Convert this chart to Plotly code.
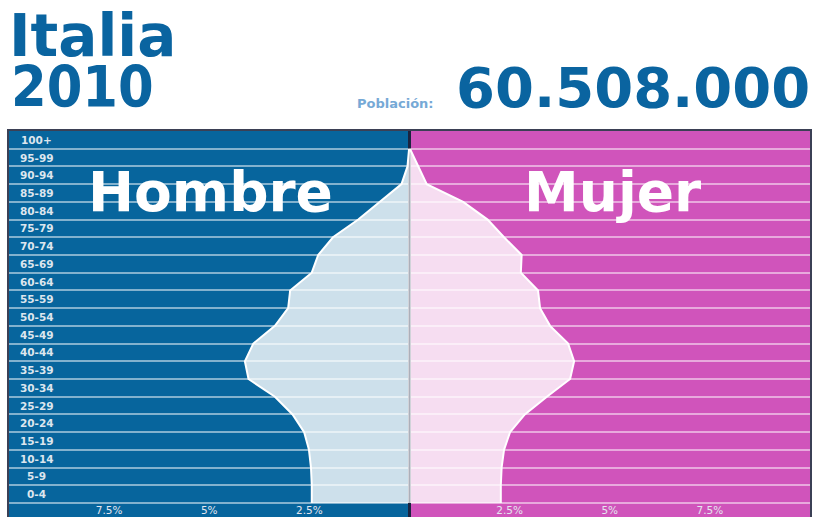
import plotly.graph_objects as go

# ---------------- data ----------------
ages = ["0-4", "5-9", "10-14", "15-19", "20-24", "25-29", "30-34", "35-39",
        "40-44", "45-49", "50-54", "55-59", "60-64", "65-69", "70-74", "75-79",
        "80-84", "85-89", "90-94", "95-99", "100+"]
male_pct = [2.44, 2.44, 2.46, 2.51, 2.63, 2.92, 3.36, 4.02, 4.11, 3.90, 3.36,
            3.03, 2.98, 2.44, 2.28, 1.91, 1.28, 0.74, 0.20, 0.05, 0.01]
female_pct = [2.28, 2.28, 2.30, 2.36, 2.51, 2.88, 3.43, 4.01, 4.11, 3.96, 3.51,
              3.26, 3.21, 2.78, 2.80, 2.36, 1.95, 1.34, 0.43, 0.21, 0.01]
xtick_vals = [-7.5, -5, -2.5, 2.5, 5, 7.5]
xtick_text = ["7.5%", "5%", "2.5%", "2.5%", "5%", "7.5%"]
country = "Italia"
year = "2010"
population = "60.508.000"
pop_label = "Población:"
male_label = "Hombre"
female_label = "Mujer"

# ---------------- layout helpers ----------------
W, H = 817, 517
ML, MR, MT, MB = 9, 7, 131, 0
PW, PH = W - ML - MR, H - MT - MB


def px_x(x):
    return (x - ML) / PW


def px_y(y):
    return (H - MB - y) / PH


BLUE = "#07659d"
MAGENTA = "#d054bb"
TITLE_BLUE = "#0a64a0"
FILL = "rgba(255,255,255,0.8)"

rows = list(range(len(ages)))          # lower boundary of each age band
centers = [r + 0.5 for r in rows]

fig = go.Figure()
fig.add_trace(go.Scatter(
    x=[-v for v in male_pct], y=rows, mode="lines", fill="tozerox",
    fillcolor=FILL, line=dict(color="white", width=2), hoverinfo="skip",
    showlegend=False))
fig.add_trace(go.Scatter(
    x=female_pct, y=rows, mode="lines", fill="tozerox",
    fillcolor=FILL, line=dict(color="white", width=2), hoverinfo="skip",
    showlegend=False))

shapes = [
    dict(type="rect", xref="x", yref="paper", x0=-10, x1=0, y0=0, y1=1,
         fillcolor=BLUE, line=dict(width=0), layer="below"),
    dict(type="rect", xref="x", yref="paper", x0=0, x1=10, y0=0, y1=1,
         fillcolor=MAGENTA, line=dict(width=0), layer="below"),
]

annotations = []
for a, c in zip(ages, centers):
    annotations.append(dict(
        text=a, xref="paper", yref="y", x=px_x(36.5), y=c, showarrow=False,
        xanchor="center", yanchor="middle",
        font=dict(family="DejaVu Sans", size=10.5, color="#dde6ee", weight="bold")))


def big(text, x, y, size, color, xanchor="left", family="DejaVu Sans"):
    return dict(text=text, xref="paper", yref="paper", x=px_x(x), y=px_y(y),
                showarrow=False, xanchor=xanchor, yanchor="middle",
                font=dict(family=family, size=size, color=color, weight="bold"))


annotations += [
    big(country, 7, 36, 58, TITLE_BLUE),
    big(year, 9, 87, 57, TITLE_BLUE, family="DejaVu Sans Condensed"),
    big(pop_label, 355, 104, 13, "#76a9d6"),
    big(population, 812, 87, 56, TITLE_BLUE, xanchor="right"),
    big(male_label, 210, 192, 55, "white", xanchor="center"),
    big(female_label, 612, 192, 55, "white", xanchor="center"),
]

fig.update_layout(
    width=W, height=H,
    margin=dict(l=ML, r=MR, t=MT, b=MB, pad=0),
    paper_bgcolor="white", plot_bgcolor=BLUE,
    shapes=shapes, annotations=annotations, showlegend=False,
    xaxis=dict(range=[-10, 10], showgrid=False, zeroline=True,
               zerolinecolor="#1b2440", zerolinewidth=3,
               tickmode="array", tickvals=xtick_vals, ticktext=xtick_text,
               ticklabelposition="inside", ticks="",
               tickfont=dict(family="DejaVu Sans", size=10.5, color="#e4e6ef"),
               showline=True, mirror=True, linecolor="rgba(25,30,55,0.85)",
               linewidth=1.5, fixedrange=True),
    yaxis=dict(range=[-14 / (372 / 21), 21], tickmode="linear", tick0=0, dtick=1,
               showgrid=True, gridcolor="rgba(255,255,255,0.5)", gridwidth=1.5,
               zeroline=False, showticklabels=False, ticks="",
               showline=True, mirror=True, linecolor="rgba(25,30,55,0.85)",
               linewidth=1.5, fixedrange=True),
)

fig.write_html("out.html", config={"displayModeBar": False},
               post_script="document.body.style.margin='0';")
